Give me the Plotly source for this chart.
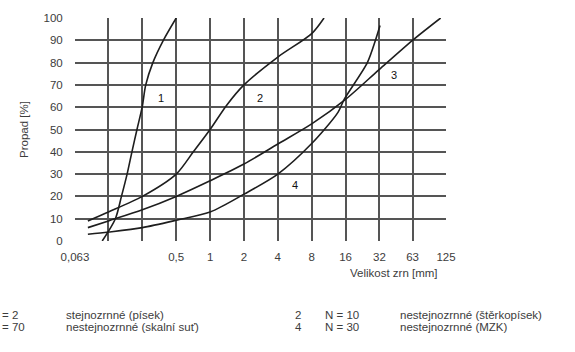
import numpy as np
import plotly.graph_objects as go

# ---- data (grain size in mm, passing in %) ----
size1 = [0.11, 0.144, 0.163, 0.183, 0.202, 0.224, 0.249, 0.268, 0.31, 0.384, 0.5]
pass1 = [0, 10, 20, 30, 40, 50, 60, 70, 80, 90, 100]

size2 = [0.082, 0.125, 0.25, 0.5, 0.71, 1, 1.41, 2, 4, 8, 10.3]
pass2 = [9, 13, 20, 30, 40, 50, 61, 70, 82.5, 93, 100]

size3 = [0.082, 0.125, 0.25, 0.5, 1, 2, 4, 8, 16, 32, 63, 112]
pass3 = [6, 9, 14, 20, 27, 34.5, 43.5, 52.5, 63.5, 77, 90, 100]

size4 = [0.082, 0.125, 0.25, 0.5, 1, 2, 4, 8, 13.7, 15.6, 25, 29.5, 32.4]
pass4 = [3, 4, 6, 9.3, 13, 21, 30, 43.7, 57.7, 63.6, 80, 90, 96.6]

x_ticks = [0.063, 0.125, 0.25, 0.5, 1, 2, 4, 8, 16, 32, 63, 125]
x_ticktext = ["0,063", "", "", "0,5", "1", "2", "4", "8", "16", "32", "63", "125"]
y_ticks = list(range(0, 101, 10))

curve_labels = ["1", "2", "3", "4"]
legend_rows = [
    ["= 2", "stejnozrnné (písek)", "2", "N = 10", "nestejnozrnné (štěrkopísek)"],
    ["= 70", "nestejnozrnné (skalní suť)", "4", "N = 30", "nestejnozrnné (MZK)"],
]

W, H = 575, 352
L, R, T, B = 75, 446, 14, 241
FONT = "Liberation Sans, Arial, sans-serif"
TXT = "#3c3c3c"
FS = 11.5


def px(x):
    return (x - L) / (R - L)


def py(y):
    return (B - y) / (B - T)


fig = go.Figure()
for s, p in [(size1, pass1), (size2, pass2), (size3, pass3), (size4, pass4)]:
    fig.add_trace(go.Scatter(x=s, y=p, mode="lines",
                             line=dict(color="#1e1e1e", width=1.6, shape="spline", smoothing=0.8),
                             showlegend=False, hoverinfo="skip"))

annotations = []
label_pos = [(161, 95), (260, 95), (394, 72), (295, 184)]
for lab, (x, y) in zip(curve_labels, label_pos):
    annotations.append(dict(text=lab, x=px(x), y=py(y), xref="paper", yref="paper",
                            xanchor="center", yanchor="middle",
                            showarrow=False, font=dict(family=FONT, size=11, color="#111")))

annotations.append(dict(text="Propad [%]", x=px(24), y=py(128), xref="paper", yref="paper",
                        xanchor="center", yanchor="middle",
                        textangle=-90, showarrow=False, font=dict(family=FONT, size=FS, color=TXT)))
annotations.append(dict(text="Velikost zrn [mm]", x=px(394), y=py(274), xref="paper", yref="paper",
                        xanchor="center", yanchor="middle",
                        showarrow=False, font=dict(family=FONT, size=FS, color=TXT)))

col_x = [0, 64, 293, 323, 398]
row_y = [316, 329]
for r, row in enumerate(legend_rows):
    for c, t in enumerate(row):
        annotations.append(dict(text=t, x=px(col_x[c]), y=py(row_y[r]), xref="paper", yref="paper",
                                xanchor="left", yanchor="middle", showarrow=False,
                                font=dict(family=FONT, size=FS, color=TXT)))

fig.update_layout(
    width=W, height=H,
    margin=dict(l=L, r=W - R, t=T, b=H - B),
    paper_bgcolor="white", plot_bgcolor="white",
    annotations=annotations,
    xaxis=dict(type="log", range=[np.log10(0.063), np.log10(125)],
               tickmode="array", tickvals=x_ticks, ticktext=x_ticktext,
               showgrid=True, gridcolor="#555555", gridwidth=1.5,
               zeroline=False, showline=False,
               ticks="outside", ticklen=5, tickcolor="rgba(0,0,0,0)",
               tickfont=dict(family=FONT, size=FS, color=TXT)),
    yaxis=dict(range=[0, 100], tickmode="array", tickvals=y_ticks,
               showgrid=True, gridcolor="#555555", gridwidth=1.5,
               zeroline=False, showline=False,
               ticks="outside", ticklen=9, tickcolor="rgba(0,0,0,0)",
               tickfont=dict(family=FONT, size=FS, color=TXT)),
)

fig.write_html("out.html")
